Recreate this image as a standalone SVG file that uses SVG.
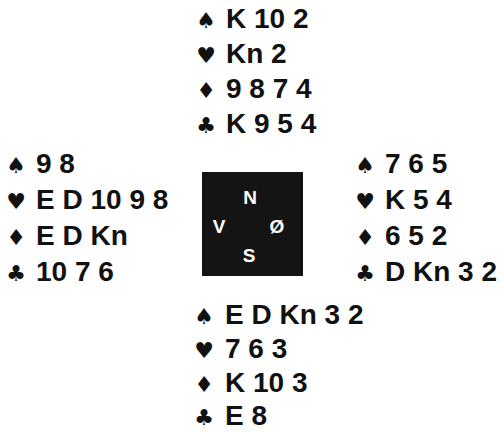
<svg xmlns="http://www.w3.org/2000/svg" width="504" height="432" viewBox="0 0 504 432">
<style>
.t{font-family:"Liberation Sans",Arial,sans-serif;font-weight:bold;font-size:28px;fill:#111}
.s{font-family:"DejaVu Sans",sans-serif;font-size:22px;fill:#111;text-anchor:middle}
.c{font-family:"Liberation Sans",Arial,sans-serif;font-weight:bold;font-size:19px;fill:#fff;text-anchor:middle}
</style>
<rect width="504" height="432" fill="#fff"/>
<g id="north">
<text class="s" x="206" y="28">♠</text><text class="t" x="226" y="28">K 10 2</text>
<text class="s" x="206" y="63">♥</text><text class="t" x="226" y="63">Kn 2</text>
<text class="s" x="206" y="98">♦</text><text class="t" x="226" y="98">9 8 7 4</text>
<text class="s" x="206" y="133">♣</text><text class="t" x="226" y="133">K 9 5 4</text>
</g>
<g id="west">
<text class="s" x="16" y="173">♠</text><text class="t" x="36" y="173">9 8</text>
<text class="s" x="16" y="209">♥</text><text class="t" x="36" y="209">E D 10 9 8</text>
<text class="s" x="16" y="245">♦</text><text class="t" x="36" y="245">E D Kn</text>
<text class="s" x="16" y="281">♣</text><text class="t" x="36" y="281">10 7 6</text>
</g>
<g id="east">
<text class="s" x="365" y="173">♠</text><text class="t" x="385" y="173">7 6 5</text>
<text class="s" x="365" y="209">♥</text><text class="t" x="385" y="209">K 5 4</text>
<text class="s" x="365" y="245">♦</text><text class="t" x="385" y="245">6 5 2</text>
<text class="s" x="365" y="281">♣</text><text class="t" x="385" y="281">D Kn 3 2</text>
</g>
<g id="south">
<text class="s" x="204" y="324">♠</text><text class="t" x="225" y="324">E D Kn 3 2</text>
<text class="s" x="204" y="358">♥</text><text class="t" x="225" y="358">7 6 3</text>
<text class="s" x="204" y="392">♦</text><text class="t" x="225" y="392">K 10 3</text>
<text class="s" x="204" y="425">♣</text><text class="t" x="225" y="425">E 8</text>
</g>
<g id="compass">
<rect x="202" y="172" width="101" height="104" fill="#141414"/>
<text class="c" x="250" y="204">N</text>
<text class="c" x="219" y="233">V</text>
<text class="c" x="277" y="233">Ø</text>
<text class="c" x="249" y="262">S</text>
</g>
<g id="connectors"/>
</svg>
